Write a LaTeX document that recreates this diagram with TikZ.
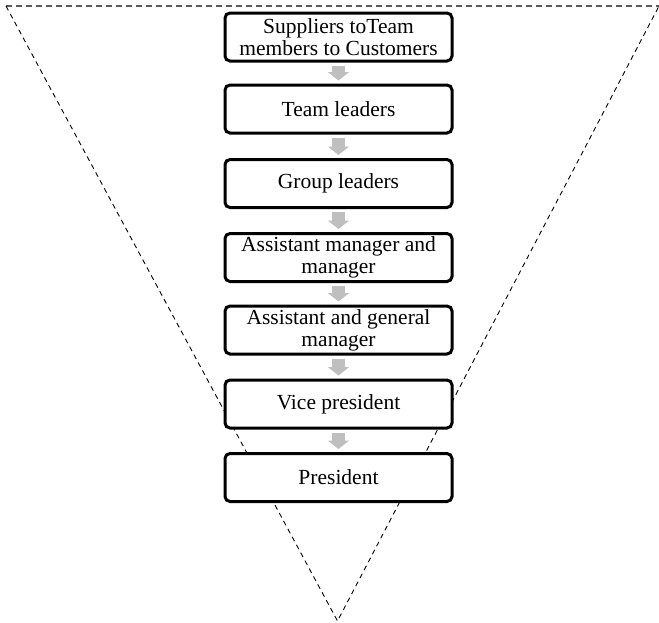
\documentclass[tikz,border=0pt]{standalone}
\usepackage{fontspec}
\setmainfont{Liberation Serif}
\usetikzlibrary{arrows.meta}
\definecolor{arrowgray}{RGB}{191,191,191}
\definecolor{rimgray}{RGB}{90,90,90}
\tikzset{
  level/.style={draw=black, line width=3pt, rounded corners=5pt, fill=white,
    minimum width=227pt, minimum height=48pt, align=center, inner sep=2pt,
    font=\fontsize{21.5pt}{22pt}\selectfont},
  flow/.style={draw=arrowgray, line width=13pt,
    -{Triangle[width=21pt,length=8.5pt]}, shorten <=3pt, shorten >=3pt},
  funnel/.style={draw=black, line width=0.9pt, dash pattern=on 5pt off 4pt},
  rim/.style={draw=rimgray, line width=1.1pt, dash pattern=on 6pt off 4pt}
}
\begin{document}
\begin{tikzpicture}[x=1pt,y=-1pt]
  \useasboundingbox (0,0) rectangle (659,622);
  % inverted triangle behind the hierarchy
  \coordinate (tl) at (6,6);
  \coordinate (tr) at (659,6);
  \coordinate (apex) at (337.5,621);
  \draw[rim] (tl) -- (tr);
  \draw[funnel] (tl) -- (apex) -- (tr);
  % levels of the hierarchy
  \node[level] (l1) at (338.5,37)    {Suppliers toTeam\\members to Customers};
  \node[level] (l2) at (338.5,109)   {Team leaders};
  \node[level] (l3) at (338.5,183.5) {Group leaders};
  \node[level] (l4) at (338.5,257.5) {Assistant manager and\\manager};
  \node[level] (l5) at (338.5,330)   {Assistant and general\\manager};
  \node[level] (l6) at (338.5,404)   {Vice president};
  \node[level] (l7) at (338.5,477.5) {President};
  % block arrows between levels
  \foreach \a/\b in {l1/l2,l2/l3,l3/l4,l4/l5,l5/l6,l6/l7}
    \draw[flow] (\a.south) -- (\b.north);
\end{tikzpicture}
\end{document}
